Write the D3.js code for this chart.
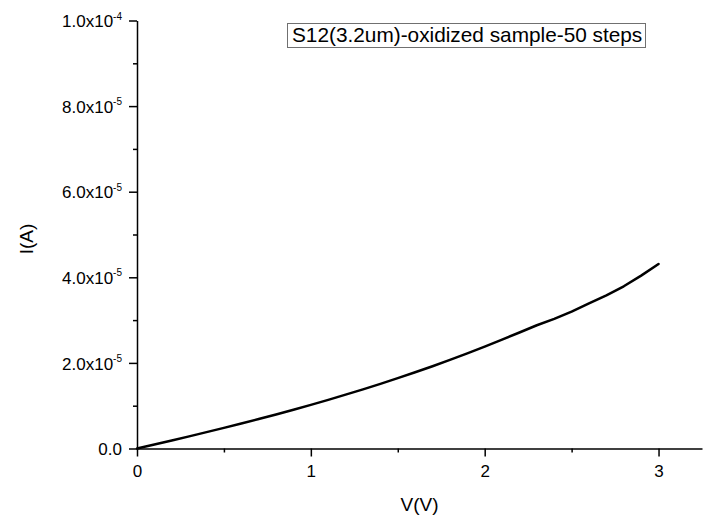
<!DOCTYPE html>
<html>
<head>
<meta charset="utf-8">
<script src="https://cdn.jsdelivr.net/npm/d3@7"></script>
<style>
  html, body { margin: 0; padding: 0; background: #fff; }
  svg { display: block; font-family: "Liberation Sans", Arial, sans-serif; }
</style>
</head>
<body>
<svg id="chart" width="706" height="515"></svg>
<script>
// ---- data ----
const voltage = [0,0.1,0.2,0.3,0.4,0.5,0.6,0.7,0.8,0.9,1.0,1.1,1.2,1.3,1.4,1.5,1.6,1.7,1.8,1.9,2.0,2.1,2.2,2.3,2.4,2.5,2.6,2.7,2.8,2.9,3.0];
// current in units of 1e-5 A
const currentE5 = [0,0.093,0.188,0.284,0.382,0.482,0.584,0.689,0.796,0.907,1.020,1.137,1.258,1.382,1.511,1.643,1.781,1.923,2.070,2.223,2.380,2.544,2.710,2.880,3.030,3.200,3.390,3.580,3.790,4.040,4.310];
const xTicks = [0,1,2,3];
const xMinorTicks = [0.5,1.5,2.5];
const yTicks = [0,2e-5,4e-5,6e-5,8e-5,1e-4];
const yMinorTicks = [1e-5,3e-5,5e-5,7e-5,9e-5];
const yTickMantissa = ["0.0","2.0","4.0","6.0","8.0","1.0"];
const yTickExponent = ["","-5","-5","-5","-5","-4"];
const legendText = "S12(3.2um)-oxidized sample-50 steps";
const xTitle = "V(V)";
const yTitle = "I(A)";

(function () {
const data = voltage.map((v, i) => ({ v, c: currentE5[i] * 1e-5 }));

const svg = d3.select("#chart");
const mLeft = 137, mRight = 702, mTop = 20.5, mBottom = 448.5;

const x = d3.scaleLinear().domain([0, 3.25]).range([mLeft, mRight]);
const y = d3.scaleLinear().domain([0, 1e-4]).range([mBottom, mTop]);

// minor ticks
svg.append("g").attr("transform", `translate(0,${mBottom})`)
  .call(d3.axisBottom(x).tickValues(xMinorTicks).tickSize(4).tickFormat(""))
  .call(g => g.select(".domain").remove())
  .call(g => g.selectAll("line").attr("stroke", "#000").attr("stroke-width", 1.5));
svg.append("g").attr("transform", `translate(${mLeft},0)`)
  .call(d3.axisLeft(y).tickValues(yMinorTicks).tickSize(4).tickFormat(""))
  .call(g => g.select(".domain").remove())
  .call(g => g.selectAll("line").attr("stroke", "#000").attr("stroke-width", 1.5));

// major x axis
const gx = svg.append("g").attr("transform", `translate(0,${mBottom})`)
  .call(d3.axisBottom(x).tickValues(xTicks).tickSize(8).tickSizeOuter(0).tickPadding(8).tickFormat(d3.format("d")));
gx.select(".domain").attr("stroke", "#000").attr("stroke-width", 1.5);
gx.selectAll("line").attr("stroke", "#000").attr("stroke-width", 1.5);
gx.selectAll("text").attr("font-size", 17).attr("fill", "#000")
  .attr("font-family", "Liberation Sans, Arial, sans-serif");

// major y axis
const gy = svg.append("g").attr("transform", `translate(${mLeft},0)`)
  .call(d3.axisLeft(y).tickValues(yTicks).tickSize(8).tickSizeOuter(0).tickPadding(7).tickFormat(""));
gy.select(".domain").attr("stroke", "#000").attr("stroke-width", 1.5);
gy.selectAll("line").attr("stroke", "#000").attr("stroke-width", 1.5);
gy.selectAll(".tick text").each(function(d) {
  const i = yTicks.indexOf(d);
  const t = d3.select(this)
    .attr("font-size", 17).attr("fill", "#000")
    .attr("font-family", "Liberation Sans, Arial, sans-serif")
    .attr("dy", "0.36em");
  t.text(null);
  if (yTickExponent[i]) {
    t.append("tspan").text(yTickMantissa[i] + "x10");
    t.append("tspan").attr("font-size", 10).attr("dy", "-0.75em").text(yTickExponent[i]);
  } else {
    t.append("tspan").text(yTickMantissa[i]);
  }
});

// curve
const line = d3.line().x(d => x(d.v)).y(d => y(d.c));
svg.append("path").datum(data)
  .attr("d", line)
  .attr("fill", "none")
  .attr("stroke", "#000")
  .attr("stroke-width", 2.5)
  .attr("stroke-linejoin", "round")
  .attr("stroke-linecap", "round");

// legend
svg.append("rect")
  .attr("x", 287.5).attr("y", 23.5).attr("width", 358).attr("height", 24)
  .attr("fill", "#fff").attr("stroke", "#707070").attr("stroke-width", 1);
svg.append("text")
  .attr("x", 292).attr("y", 42)
  .attr("font-size", 20.8).attr("fill", "#000")
  .text(legendText);

// axis titles
svg.append("text")
  .attr("x", (mLeft + mRight) / 2).attr("y", 511)
  .attr("text-anchor", "middle").attr("font-size", 19).attr("fill", "#000")
  .text(xTitle);
svg.append("text")
  .attr("transform", "translate(33,239) rotate(-90)")
  .attr("text-anchor", "middle").attr("font-size", 19).attr("fill", "#000")
  .text(yTitle);
})();
</script>
</body>
</html>
